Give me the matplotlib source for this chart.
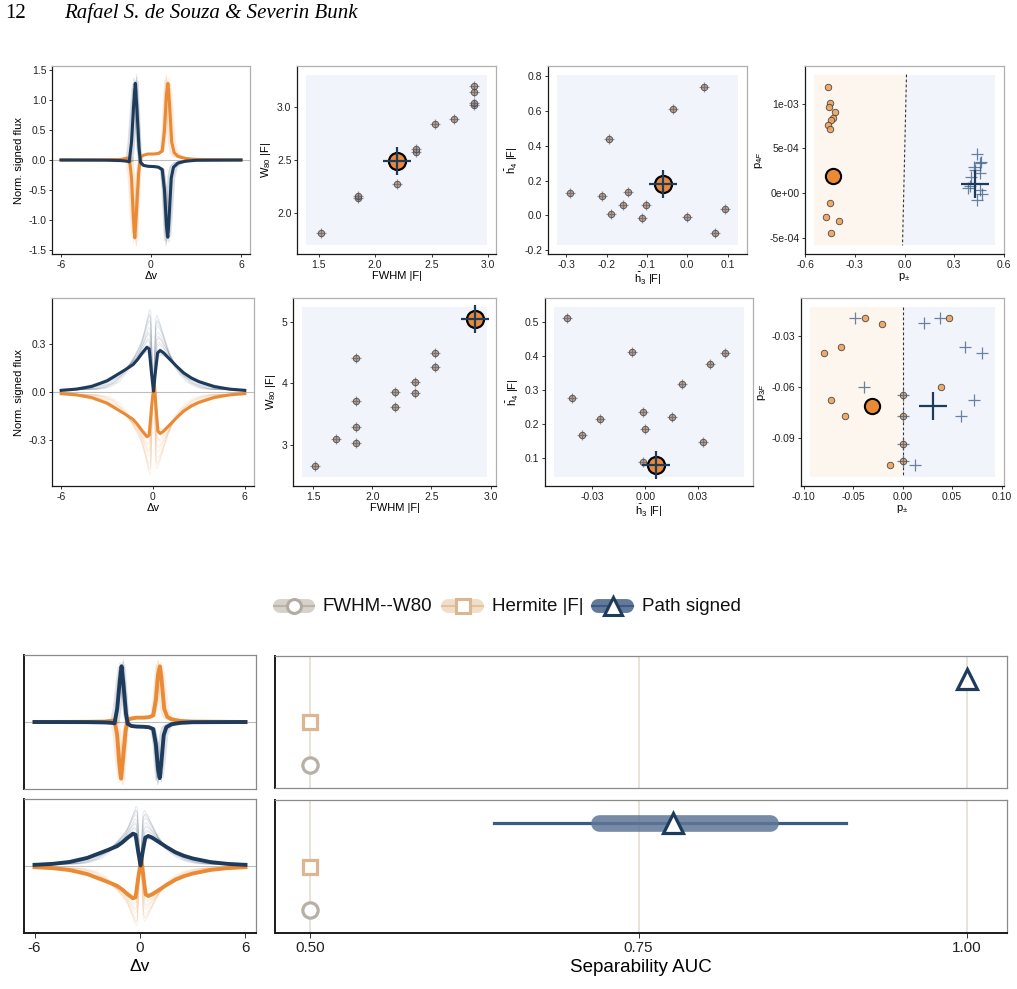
import numpy as np
import matplotlib
matplotlib.use("Agg")
import matplotlib.pyplot as plt
from matplotlib.patches import Rectangle, Polygon
from matplotlib.ticker import FuncFormatter

plt.rcParams['font.family'] = ['Liberation Sans', 'DejaVu Sans']
plt.rcParams['axes.unicode_minus'] = False
plt.rcParams['mathtext.fontset'] = 'custom'
plt.rcParams['mathtext.rm'] = 'Liberation Sans'
plt.rcParams['mathtext.it'] = 'Liberation Sans:italic'
plt.rcParams['mathtext.sf'] = 'Liberation Sans'

# ---------------- data ----------------
# mean profiles, narrow (row 1) case
prof1_x_blue = [-6.0, -3.0, -2.0, -1.6, -1.45, -1.3, -1.15, -1.05, -0.95, -0.8, -0.7, -0.5, -0.2, 0.2, 0.5, 0.75,
                0.9, 1.03, 1.12, 1.2, 1.35, 1.5, 1.8, 2.3, 3.0, 6.0]
prof1_y_blue = [0.0, -0.003, -0.01, -0.02, -0.03, 0.3, 0.95, 1.28, 0.9, 0.2, -0.04, -0.09, -0.105, -0.11, -0.12,
                -0.16, -0.5, -1.1, -1.29, -1.0, -0.3, -0.12, -0.05, -0.02, -0.005, 0.0]
prof1_x_orange = [-6.0, -3.0, -2.0, -1.6, -1.45, -1.3, -1.18, -1.08, -0.98, -0.82, -0.7, -0.5, -0.2, 0.2, 0.5, 0.75,
                  0.9, 1.03, 1.13, 1.22, 1.38, 1.55, 1.8, 2.3, 3.0, 6.0]
prof1_y_orange = [0.0, 0.004, 0.01, 0.03, 0.04, -0.3, -0.95, -1.3, -0.9, -0.2, 0.05, 0.08, 0.1, 0.1, 0.11,
                  0.15, 0.5, 1.1, 1.28, 1.0, 0.3, 0.12, 0.06, 0.025, 0.01, 0.0]
# mean profiles, broad (row 2) case
prof2_x_blue = [-6.0, -5.0, -4.0, -3.0, -2.4, -1.8, -1.3, -1.0, -0.7, -0.4, -0.25, -0.1, 0.03, 0.15, 0.3, 0.47,
                0.7, 1.0, 1.5, 2.0, 2.5, 3.0, 4.0, 5.0, 6.0]
prof2_y_blue = [0.01, 0.018, 0.035, 0.07, 0.105, 0.14, 0.172, 0.205, 0.245, 0.28, 0.27, 0.12, 0.005, 0.12, 0.245,
                0.26, 0.245, 0.215, 0.165, 0.12, 0.088, 0.065, 0.034, 0.018, 0.01]
prof2_x_orange = [-6.0, -5.0, -4.0, -3.0, -2.4, -1.8, -1.3, -1.0, -0.7, -0.4, -0.25, -0.1, 0.08, 0.2, 0.32, 0.47,
                  0.7, 1.0, 1.5, 2.0, 2.5, 3.0, 4.0, 5.0, 6.0]
prof2_y_orange = [-0.01, -0.018, -0.035, -0.07, -0.105, -0.14, -0.172, -0.205, -0.245, -0.28, -0.27, -0.1, 0.065,
                  -0.1, -0.245, -0.26, -0.245, -0.215, -0.165, -0.12, -0.088, -0.065, -0.034, -0.018, -0.01]
# individual realisations: width and amplitude factors
real1_width = [0.82, 0.88, 0.92, 0.96, 1.0, 1.04, 1.08, 1.12, 1.18, 0.9, 1.06, 0.95, 1.15, 0.85]
real1_amp = [1.05, 0.92, 1.1, 0.97, 1.03, 0.9, 1.08, 0.95, 1.0, 1.12, 0.88, 1.06, 0.94, 1.0]
real2_width = [0.55, 0.65, 0.75, 0.85, 0.95, 1.05, 1.15, 0.6, 0.7, 0.8, 0.9, 1.0, 1.1, 0.62]
real2_amp = [1.85, 1.6, 1.35, 1.2, 1.05, 0.95, 0.9, 1.7, 1.45, 1.3, 1.15, 1.0, 0.92, 1.75]

# width scatter
fwhm_1 = [1.52, 1.85, 1.85, 2.19, 2.36, 2.36, 2.53, 2.70, 2.87, 2.87, 2.87, 2.87]
w80_1 = [1.81, 2.14, 2.155, 2.27, 2.575, 2.60, 2.84, 2.89, 3.025, 3.04, 3.14, 3.20]
fwhm_1_mean, w80_1_mean = 2.19, 2.49
fwhm_2 = [1.52, 1.69, 1.86, 1.86, 1.86, 1.86, 2.19, 2.19, 2.36, 2.36, 2.53, 2.53]
w80_2 = [2.67, 3.10, 3.04, 3.30, 3.71, 4.41, 3.62, 3.87, 3.84, 4.02, 4.26, 4.50]
fwhm_2_mean, w80_2_mean = 2.87, 5.05

# Hermite scatter
h3_1 = [-0.291, -0.212, -0.194, -0.189, -0.160, -0.147, -0.112, -0.102, -0.035, -0.001, 0.042, 0.069, 0.093]
h4_1 = [0.128, 0.111, 0.441, 0.009, 0.059, 0.136, -0.018, 0.061, 0.612, -0.008, 0.740, -0.100, 0.034]
h3_1_mean, h4_1_mean = -0.060, 0.182
h3_2 = [-0.0442, -0.0417, -0.0358, -0.0257, -0.0074, -0.0011, 0.0, -0.0011, 0.0153, 0.0211, 0.033, 0.037, 0.0455]
h4_2 = [0.511, 0.2765, 0.168, 0.214, 0.413, 0.236, 0.186, 0.089, 0.220, 0.319, 0.149, 0.378, 0.408]
h3_2_mean, h4_2_mean = 0.0064, 0.080

# path-signed scatter
pm_o1 = [-0.464, -0.447, -0.458, -0.421, -0.429, -0.445, -0.460, -0.451, -0.447, -0.472, -0.395, -0.443]
p4_o1 = [1.187e-3, 1.009e-3, 0.960e-3, 0.908e-3, 0.841e-3, 0.822e-3, 0.763e-3, 0.715e-3, -0.115e-3, -0.264e-3,
         -0.313e-3, -0.447e-3]
pm_b1 = [0.440, 0.454, 0.417, 0.428, 0.454, 0.404, 0.393, 0.454, 0.467, 0.440, 0.460, 0.385]
p4_b1 = [0.441e-3, 0.336e-3, 0.291e-3, 0.254e-3, 0.220e-3, 0.179e-3, 0.075e-3, 0.030e-3, -0.015e-3, -0.082e-3,
         0.350e-3, 0.060e-3]
pm_o1_mean, p4_o1_mean = -0.431, 0.186e-3
pm_b1_mean, p4_b1_mean = 0.428, 0.105e-3
boundary1_pm = [0.012, -0.012]  # at top, bottom

pm_o2 = [-0.0383, -0.0208, -0.0625, -0.0797, -0.0723, -0.0585, 0.0, 0.0, 0.0, 0.0, -0.0128, 0.0387, 0.0469]
p3_o2 = [-0.0194, -0.0225, -0.0365, -0.0400, -0.0674, -0.0770, -0.0646, -0.0768, -0.0935, -0.1034, -0.1057,
         -0.0599, -0.0194]
pm_b2 = [-0.0477, -0.0393, 0.0212, 0.0380, 0.0625, 0.0797, 0.0723, 0.0592, 0.0128, 0.0, 0.0, 0.0, 0.0]
p3_b2 = [-0.0194, -0.0597, -0.0223, -0.0192, -0.0363, -0.0398, -0.0672, -0.0768, -0.1057, -0.0646, -0.0768,
         -0.0935, -0.1034]
pm_o2_mean, p3_o2_mean = -0.0313, -0.0709
pm_b2_mean, p3_b2_mean = 0.0309, -0.0707
boundary2_pm = [0.0, 0.0]

# separability AUC
methods = ['FWHM--W80', 'Hermite |F|', 'Path signed']
auc_top = [0.5, 0.5, 1.0]
auc_bot = [0.5, 0.5, 0.776]
auc_bot_path_iqr = [0.72, 0.85]
auc_bot_path_ci = [0.64, 0.908]

# ---------------- style ----------------
BLUE = '#1f3b5c'
ORANGE = '#ea8a35'
W, H = 1017, 989
fig = plt.figure(figsize=(W / 100, H / 100), dpi=100)


def ax_px(x0, y0, x1, y1):
    return fig.add_axes([x0 / W, 1 - y1 / H, (x1 - x0) / W, (y1 - y0) / H])


def style(ax, lab=7.5):
    for s in ['top', 'right']:
        ax.spines[s].set_color('#b0b0b0')
        ax.spines[s].set_linewidth(0.9)
    for s in ['left', 'bottom']:
        ax.spines[s].set_color('#1a1a1a')
        ax.spines[s].set_linewidth(0.9)
    ax.tick_params(direction='out', length=2.5, width=0.7, color='#333333', labelsize=lab,
                   labelcolor='#222222', pad=1.5)


def bgrect(ax, color='#f1f5fb'):
    ax.add_patch(Rectangle((1 / 22, 1 / 22), 20 / 22, 20 / 22, transform=ax.transAxes,
                           facecolor=color, edgecolor='none', zorder=0))


def profile(ax, xb, yb, xo, yo, widths, amps, lw_thick=2.2):
    xg = np.linspace(-6, 6, 801)
    for wfac, a in zip(widths, amps):
        ax.plot(xg, a * np.interp(xg / wfac, xo, yo), color=ORANGE, lw=0.6, alpha=0.13, zorder=2)
        ax.plot(xg, a * np.interp(xg / wfac, xb, yb), color=BLUE, lw=0.6, alpha=0.13, zorder=2)
    ax.axhline(0, color='#bdbdbd', lw=0.8, zorder=1)
    ax.plot(xo, yo, color=ORANGE, lw=lw_thick, zorder=4, solid_joinstyle='round')
    ax.plot(xb, yb, color=BLUE, lw=lw_thick, zorder=5, solid_joinstyle='round')
    ax.set_xlim(-6.6, 6.6)


def overlap_scatter(ax, xs, ys, xm, ym):
    ax.scatter(xs, ys, s=22, facecolor='#c99067', edgecolor='#3a3a3a', linewidth=0.6, alpha=0.85, zorder=3)
    ax.scatter(xs, ys, s=55, marker='+', color='#3a5a82', linewidth=0.9, alpha=0.6, zorder=4)
    ax.scatter([xm], [ym], s=150, facecolor=ORANGE, edgecolor='black', linewidth=1.6, zorder=5)
    ax.scatter([xm], [ym], s=420, marker='+', color=BLUE, linewidth=1.6, zorder=6)


def signed_panel(ax, xlim, ylim, pmo, po, pmb, pb, mo, mb, bnd):
    ax.set_xlim(*xlim)
    ax.set_ylim(*ylim)
    dx = (xlim[1] - xlim[0]) / 22
    dy = (ylim[1] - ylim[0]) / 22
    xl, xr = xlim[0] + dx, xlim[1] - dx
    yb_, yt = ylim[0] + dy, ylim[1] - dy
    ax.add_patch(Polygon([(xl, yb_), (bnd[1], yb_), (bnd[0], yt), (xl, yt)], closed=True,
                         facecolor='#fdf6ee', edgecolor='none', zorder=0))
    ax.add_patch(Polygon([(bnd[1], yb_), (xr, yb_), (xr, yt), (bnd[0], yt)], closed=True,
                         facecolor='#f1f5fb', edgecolor='none', zorder=0))
    ax.plot([bnd[0], bnd[1]], [yt, yb_], color='#333333', lw=0.8, ls=(0, (2.5, 2)), zorder=1)
    ax.scatter(pmo, po, s=22, facecolor='#eda25e', edgecolor='#3a3a3a', linewidth=0.6, alpha=0.9, zorder=3)
    ax.scatter(pmb, pb, s=70, marker='+', color='#3a5a82', linewidth=0.9, alpha=0.75, zorder=4)
    ax.scatter([mo[0]], [mo[1]], s=120, facecolor=ORANGE, edgecolor='black', linewidth=1.5, zorder=5)
    ax.scatter([mb[0]], [mb[1]], s=420, marker='+', color=BLUE, linewidth=1.6, zorder=6)


# ---------------- row 1 ----------------
a1 = ax_px(52, 66, 250, 254)
profile(a1, prof1_x_blue, prof1_y_blue, prof1_x_orange, prof1_y_orange, real1_width, real1_amp)
a1.set_ylim(-1.57, 1.57)
a1.set_yticks([-1.5, -1.0, -0.5, 0.0, 0.5, 1.0, 1.5])
a1.set_yticklabels(['-1.5', '-1.0', '-0.5', '0.0', '0.5', '1.0', '1.5'])
a1.set_xticks([-6, 0, 6])
a1.set_xlabel('Δv', fontsize=8, labelpad=1)
a1.set_ylabel('Norm. signed flux', fontsize=8, labelpad=3)
style(a1)

a2 = ax_px(297, 66, 496, 254)
bgrect(a2)
overlap_scatter(a2, fwhm_1, w80_1, fwhm_1_mean, w80_1_mean)
a2.set_xlim(1.31, 3.068)
a2.set_ylim(1.61, 3.39)
a2.set_xticks([1.5, 2.0, 2.5, 3.0])
a2.set_xticklabels(['1.5', '2.0', '2.5', '3.0'])
a2.set_yticks([2.0, 2.5, 3.0])
a2.set_yticklabels(['2.0', '2.5', '3.0'])
a2.set_xlabel('FWHM |F|', fontsize=8, labelpad=1)
a2.set_ylabel('W$_{80}$ |F|', fontsize=8, labelpad=3)
style(a2)

a3 = ax_px(548, 66, 747, 254)
bgrect(a3)
overlap_scatter(a3, h3_1, h4_1, h3_1_mean, h4_1_mean)
a3.set_xlim(-0.345, 0.148)
a3.set_ylim(-0.223, 0.859)
a3.set_xticks([-0.3, -0.2, -0.1, 0.0, 0.1])
a3.set_xticklabels(['-0.3', '-0.2', '-0.1', '0.0', '0.1'])
a3.set_yticks([-0.2, 0.0, 0.2, 0.4, 0.6, 0.8])
a3.set_yticklabels(['-0.2', '0.0', '0.2', '0.4', '0.6', '0.8'])
a3.set_xlabel(r'$\widetilde{\mathrm{h}}_3$ |F|', fontsize=8, labelpad=1)
a3.set_ylabel(r'$\widetilde{\mathrm{h}}_4$ |F|', fontsize=8, labelpad=3)
style(a3)

a4 = ax_px(805, 66, 1004, 254)
signed_panel(a4, (-0.6, 0.6), (-6.82e-4, 1.423e-3), pm_o1, p4_o1, pm_b1, p4_b1,
             (pm_o1_mean, p4_o1_mean), (pm_b1_mean, p4_b1_mean), boundary1_pm)
a4.set_xticks([-0.6, -0.3, 0.0, 0.3, 0.6])
a4.set_xticklabels(['-0.6', '-0.3', '0.0', '0.3', '0.6'])
a4.set_yticks([-5e-4, 0, 5e-4, 1e-3])
a4.yaxis.set_major_formatter(FuncFormatter(lambda v, p: f"{v:.0e}"))
a4.set_xlabel('p$_{\\pm}$', fontsize=8, labelpad=1)
a4.set_ylabel('p$_{4F}$', fontsize=8, labelpad=3)
style(a4)

# ---------------- row 2 ----------------
b1 = ax_px(52, 298, 254, 486)
profile(b1, prof2_x_blue, prof2_y_blue, prof2_x_orange, prof2_y_orange, real2_width, real2_amp)
b1.set_ylim(-0.589, 0.589)
b1.set_yticks([-0.3, 0.0, 0.3])
b1.set_yticklabels(['-0.3', '0.0', '0.3'])
b1.set_xticks([-6, 0, 6])
b1.set_xlabel('Δv', fontsize=8, labelpad=1)
b1.set_ylabel('Norm. signed flux', fontsize=8, labelpad=3)
style(b1)

b2 = ax_px(293, 298, 496, 486)
bgrect(b2)
overlap_scatter(b2, fwhm_2, w80_2, fwhm_2_mean, w80_2_mean)
b2.set_xlim(1.331, 3.045)
b2.set_ylim(2.339, 5.385)
b2.set_xticks([1.5, 2.0, 2.5, 3.0])
b2.set_xticklabels(['1.5', '2.0', '2.5', '3.0'])
b2.set_yticks([3, 4, 5])
b2.set_xlabel('FWHM |F|', fontsize=8, labelpad=1)
b2.set_ylabel('W$_{80}$ |F|', fontsize=8, labelpad=3)
style(b2)

b3 = ax_px(545, 298, 753, 486)
bgrect(b3)
overlap_scatter(b3, h3_2, h4_2, h3_2_mean, h4_2_mean)
b3.set_xlim(-0.0568, 0.0611)
b3.set_ylim(0.0186, 0.5706)
b3.set_xticks([-0.03, 0.0, 0.03])
b3.set_xticklabels(['-0.03', '0.00', '0.03'])
b3.set_yticks([0.1, 0.2, 0.3, 0.4, 0.5])
b3.set_xlabel(r'$\widetilde{\mathrm{h}}_3$ |F|', fontsize=8, labelpad=1)
b3.set_ylabel(r'$\widetilde{\mathrm{h}}_4$ |F|', fontsize=8, labelpad=3)
style(b3)

b4 = ax_px(801, 298, 1004, 486)
signed_panel(b4, (-0.1027, 0.1024), (-0.1181, -0.00738), pm_o2, p3_o2, pm_b2, p3_b2,
             (pm_o2_mean, p3_o2_mean), (pm_b2_mean, p3_b2_mean), boundary2_pm)
b4.set_xticks([-0.10, -0.05, 0.0, 0.05, 0.10])
b4.set_xticklabels(['-0.10', '-0.05', '0.00', '0.05', '0.10'])
b4.set_yticks([-0.09, -0.06, -0.03])
b4.set_yticklabels(['-0.09', '-0.06', '-0.03'])
b4.set_xlabel('p$_{\\pm}$', fontsize=8, labelpad=1)
b4.set_ylabel('p$_{3F}$', fontsize=8, labelpad=3)
style(b4)

# ---------------- legend ----------------
lg = ax_px(260, 590, 760, 622)
lg.set_xlim(260, 760)
lg.set_ylim(622, 590)
lg.axis('off')
leg_items = [
    (280, 308, 294, 'o', '#d6d2cb', '#bab3a8', '#b3aba0', 10, 322, methods[0]),
    (448, 477, 462.5, 's', '#f2ddc7', '#e2c3a1', '#dcb690', 10, 492, methods[1]),
    (598, 627, 613, '^', '#62799a', '#3d5a80', BLUE, 13, 642, methods[2]),
]
for x0, x1, xm, mk, pc, lc, ec, ms, xt, lab in leg_items:
    lg.plot([x0, x1], [606, 606], lw=10, solid_capstyle='round', color=pc)
    lg.plot([x0 - 6, x1 + 6], [606, 606], lw=1.5, color=lc)
    lg.plot([xm], [606], marker=mk, ms=ms, mfc='white', mec=ec, mew=2.2)
    lg.text(xt, 606, lab, fontsize=13.5, va='center', ha='left', color='#111111')

# ---------------- bottom: profiles ----------------
c1 = ax_px(24, 655, 256, 789)
profile(c1, prof1_x_blue, prof1_y_blue, prof1_x_orange, prof1_y_orange, real1_width, real1_amp, lw_thick=2.8)
c1.set_ylim(-1.54, 1.54)
c2 = ax_px(24, 799, 256, 933)
profile(c2, prof2_x_blue, prof2_y_blue, prof2_x_orange, prof2_y_orange, real2_width, real2_amp, lw_thick=2.8)
c2.set_ylim(-0.58, 0.58)
for c in (c1, c2):
    style(c, lab=11)
    c.set_yticks([])
    c.spines['bottom'].set_color('#8a8a8a')
    c.spines['top'].set_color('#8a8a8a')
    c.spines['right'].set_color('#8a8a8a')
c1.set_xticks([])
c2.spines['bottom'].set_color('#1a1a1a')
c2.spines['bottom'].set_linewidth(1.4)
c1.spines['left'].set_linewidth(1.4)
c2.spines['left'].set_linewidth(1.4)
c2.set_xticks([-6, 0, 6])
c2.tick_params(axis='x', labelsize=11, length=3.5, pad=2)
c2.set_xlabel('Δv', fontsize=12.5, labelpad=3)

# ---------------- bottom: AUC ----------------
ypos = [1, 2, 3]
markers = ['o', 's', '^']
medge = ['#b8b0a5', '#dcb690', BLUE]
msize = [11, 10, 15]


def auc_panel(ax, vals):
    ax.set_xlim(0.4734, 1.0304)
    ax.set_ylim(0.48, 3.52)
    for g in [0.5, 0.75, 1.0]:
        ax.axvline(g, color='#e6e0d3', lw=1.3, zorder=0)
    for v, yp, mk, ec, ms in zip(vals, ypos, markers, medge, msize):
        ax.plot([v], [yp], marker=mk, ms=ms, mfc='white', mec=ec, mew=2.3, zorder=6)
    style(ax, lab=11)
    ax.set_yticks([])
    for s in ['top', 'right', 'bottom']:
        ax.spines[s].set_color('#8a8a8a')
    ax.spines['left'].set_linewidth(1.4)


d1 = ax_px(275, 656, 1007, 788)
auc_panel(d1, auc_top)
d1.set_xticks([])
d2 = ax_px(275, 800, 1007, 933)
d2.plot(auc_bot_path_ci, [ypos[2], ypos[2]], color='#3d5a80', lw=2.3, zorder=3)
d2.plot(auc_bot_path_iqr, [ypos[2], ypos[2]], color='#5f7798', lw=12, solid_capstyle='round', zorder=4, alpha=0.85)
auc_panel(d2, auc_bot)
d2.spines['bottom'].set_color('#1a1a1a')
d2.spines['bottom'].set_linewidth(1.4)
d2.set_xticks([0.5, 0.75, 1.0])
d2.set_xticklabels(['0.50', '0.75', '1.00'])
d2.tick_params(axis='x', labelsize=11, length=3.5, pad=2)
d2.set_xlabel('Separability AUC', fontsize=13.5, labelpad=3)

# ---------------- header ----------------
fig.text(5 / W, 1 - 13 / H, '12', family='Liberation Serif', fontsize=15, va='center', ha='left')
fig.text(64 / W, 1 - 13 / H, 'Rafael S. de Souza & Severin Bunk', family='Liberation Serif',
         style='italic', fontsize=15, va='center', ha='left')

fig.savefig('out.png', dpi=100)
